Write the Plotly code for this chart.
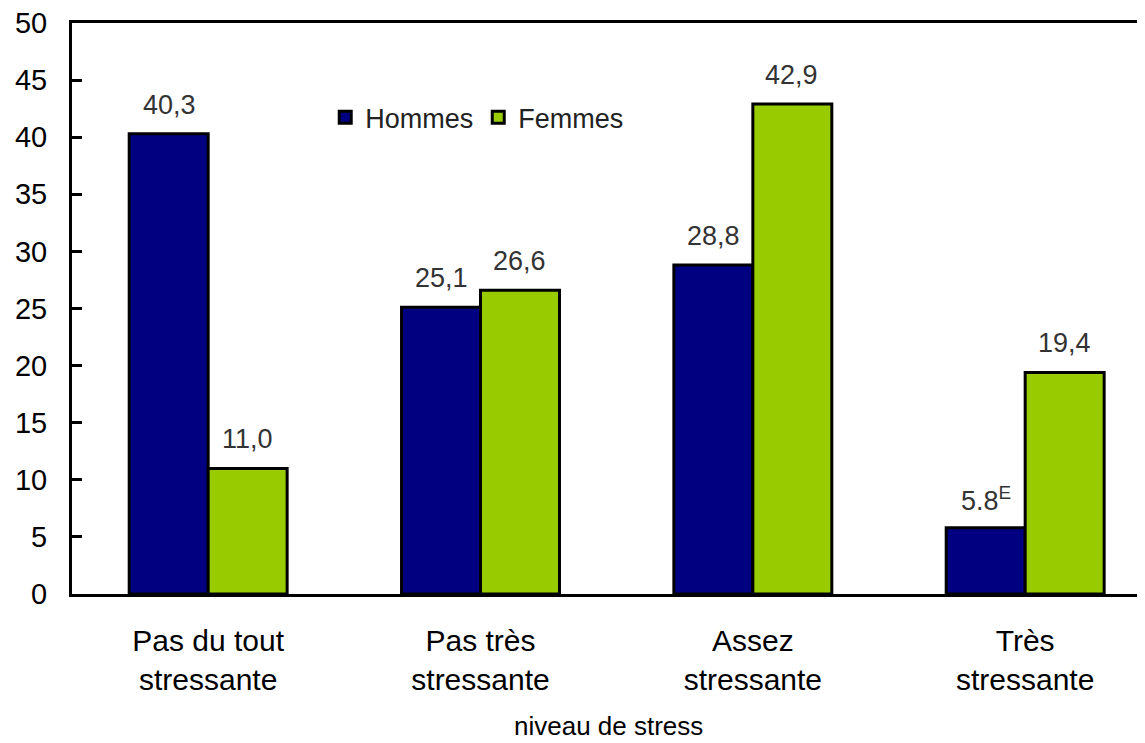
import plotly.graph_objects as go

categories = ["Pas du tout<br>stressante", "Pas très<br>stressante", "Assez<br>stressante", "Très<br>stressante"]
hommes = [40.3, 25.1, 28.8, 5.8]
femmes = [11.0, 26.6, 42.9, 19.4]
hommes_labels = ["40,3", "25,1", "28,8", "5.8<sup>E</sup>"]
femmes_labels = ["11,0", "26,6", "42,9", "19,4"]
y_ticks = [0, 5, 10, 15, 20, 25, 30, 35, 40, 45, 50]

FONT = "Liberation Sans, Arial, sans-serif"
LABEL_FONT = dict(family=FONT, size=27, color="#333333")

fig = go.Figure()
fig.add_trace(go.Bar(
    name="Hommes", x=categories, y=hommes,
    marker=dict(color="#000080", line=dict(color="black", width=3)),
))
fig.add_trace(go.Bar(
    name="Femmes", x=categories, y=femmes,
    marker=dict(color="#99CC00", line=dict(color="black", width=3)),
))

# value labels above bars (offset to each bar of the group)
bar_half_px = 39
for cat, v, t in zip(categories, hommes, hommes_labels):
    fig.add_annotation(x=cat, y=v, text=t, showarrow=False, xshift=-bar_half_px,
                       yshift=29, font=LABEL_FONT, xanchor="center", yanchor="middle")
for cat, v, t in zip(categories, femmes, femmes_labels):
    fig.add_annotation(x=cat, y=v, text=t, showarrow=False, xshift=bar_half_px,
                       yshift=29, font=LABEL_FONT, xanchor="center", yanchor="middle")

# x-axis title
fig.add_annotation(text="niveau de stress", xref="paper", yref="paper", x=0.5, y=-0.232,
                   showarrow=False, xanchor="center", yanchor="middle",
                   font=dict(family=FONT, size=26, color="black"))

# page body has an 8px default margin, so the figure is 8px smaller and margins shifted
fig.update_layout(
    width=1137, height=735,
    margin=dict(l=64, r=0, t=15, b=149),
    paper_bgcolor="white", plot_bgcolor="white",
    barmode="group", bargap=0.42, bargroupgap=0,
    font=dict(family=FONT, size=27, color="black"),
    showlegend=True,
    legend=dict(orientation="h", x=0.236, y=0.834, xanchor="left", yanchor="middle",
                font=dict(family=FONT, size=27, color="#222222"),
                bgcolor="rgba(0,0,0,0)", itemwidth=30, traceorder="normal"),
    xaxis=dict(
        range=[-0.5, 3.44], showline=True, linecolor="black", linewidth=3,
        mirror=True, ticks="", showgrid=False, zeroline=False, automargin=False,
        tickfont=dict(family=FONT, size=30, color="black"),
        ticklabelstandoff=18,
    ),
    yaxis=dict(
        range=[0, 50], tickvals=y_ticks, showline=True, linecolor="black", linewidth=3,
        mirror=False, ticks="inside", ticklen=10, tickwidth=3, tickcolor="black",
        showgrid=False, zeroline=False, automargin=False, ticklabeloverflow="allow",
        tickfont=dict(family=FONT, size=29, color="black"),
        ticklabelstandoff=16,
    ),
)

fig.write_html("out.html")
